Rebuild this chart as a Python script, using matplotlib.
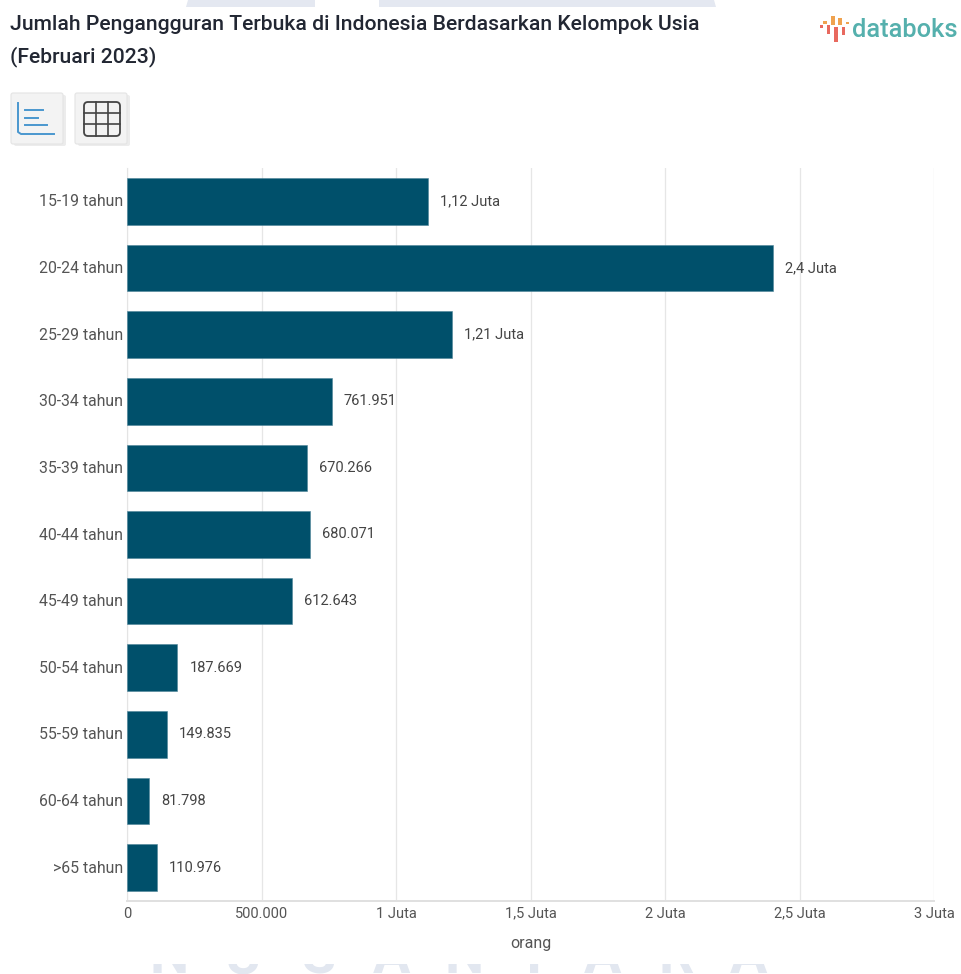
import matplotlib
matplotlib.use("Agg")
import matplotlib.pyplot as plt
from matplotlib.patches import FancyBboxPatch, Rectangle, Polygon
from matplotlib.transforms import ScaledTranslation

categories = ["15-19 tahun", "20-24 tahun", "25-29 tahun", "30-34 tahun", "35-39 tahun",
              "40-44 tahun", "45-49 tahun", "50-54 tahun", "55-59 tahun", "60-64 tahun", ">65 tahun"]
values = [1120000, 2400000, 1210000, 761951, 670266, 680071, 612643, 187669, 149835, 81798, 110976]
value_labels = ["1,12 Juta", "2,4 Juta", "1,21 Juta", "761.951", "670.266", "680.071",
                "612.643", "187.669", "149.835", "81.798", "110.976"]
tick_values = [0, 500000, 1000000, 1500000, 2000000, 2500000, 3000000]
tick_labels = ["0", "500.000", "1 Juta", "1,5 Juta", "2 Juta", "2,5 Juta", "3 Juta"]

W, H = 961, 974
plt.rcParams["font.family"] = ["Roboto", "DejaVu Sans"]
fig = plt.figure(figsize=(W / 100, H / 100), dpi=100, facecolor="white")

# pixel-coordinate overlay for page furniture
page = fig.add_axes([0, 0, 1, 1], zorder=0)
page.set_xlim(0, W)
page.set_ylim(H, 0)
page.axis("off")

# page lettering behind the white chart card: only its lower edge shows
band = Rectangle((0, 964), W, 10, transform=page.transData, fc="none", ec="none")
page.add_patch(band)
for ch, cx in zip("NUSANTARA", [169, 243, 318, 391, 464, 534, 602, 676, 748]):
    letter = page.text(cx, 973, ch, fontsize=40, color="#e2e7f0", ha="center", va="baseline",
                       fontweight="bold", clip_on=True)
    letter.set_clip_path(band)
page.add_patch(Polygon([[186, 7], [188, 0], [315, 0], [315, 7]], color="#e4e8f1", lw=0))
page.add_patch(Polygon([[379, 7], [379, 0], [714, 0], [716, 7]], color="#e4e8f1", lw=0))

page.text(10, 25, "Jumlah Pengangguran Terbuka di Indonesia Berdasarkan Kelompok Usia",
          fontsize=15.2, fontweight="medium", color="#222733", va="center")
page.text(10, 57, "(Februari 2023)", fontsize=15.2, fontweight="medium", color="#222733", va="center")

# logo
logo_bars = [(820, 25, 3, 3, "#e8695f"), (823, 21, 4, 3, "#efa24f"), (827, 25, 3, 9, "#e8695f"),
             (831, 16, 4, 9, "#efa24f"), (834, 27, 4, 15, "#e8695f"),
             (838, 18, 4, 7, "#efa24f"), (842, 27, 3, 8, "#e8695f"), (846, 22, 3, 2, "#efa24f")]
for x, y, w, h, c in logo_bars:
    page.add_patch(Rectangle((x, y), w, h, color=c, lw=0))
page.text(852, 30, "databoks", fontsize=18.4, color="#55b0ad", va="center", fontweight="medium")

# view switch buttons
for x0 in (11, 75):
    page.add_patch(FancyBboxPatch((x0 + 3, 95), 52, 51, boxstyle="round,pad=0,rounding_size=2",
                                  fc="#ececec", ec="none"))
    page.add_patch(FancyBboxPatch((x0, 93), 52, 51, boxstyle="round,pad=0,rounding_size=2",
                                  fc="#f3f3f3", ec="#e4e4e4", lw=0.8))
page.plot([18, 18, 21, 54], [103, 132, 134, 134], color="#4a97cf", lw=1.4)
for x1, y in [(43, 110), (38, 118), (47, 125)]:
    page.plot([25, x1], [y, y], color="#4a97cf", lw=1.4)
page.add_patch(FancyBboxPatch((84, 102), 36, 34, boxstyle="round,pad=0,rounding_size=4",
                              fc="none", ec="#444444", lw=1.3))
for x in (96, 108):
    page.plot([x, x], [102, 136], color="#444444", lw=1.2)
for y in (113, 124):
    page.plot([84, 120], [y, y], color="#444444", lw=1.2)

# plot area spans the gridlines, one category band per row
left, right, top, bottom = 127, 934, 168, 901
ax = fig.add_axes([left / W, 1 - bottom / H, (right - left) / W, (bottom - top) / H], zorder=1)
ax.patch.set_alpha(0)
positions = list(range(len(categories)))
ax.barh(positions, values, height=0.7, color="#00506b", edgecolor="#4d8499", linewidth=0.4, zorder=3)
ax.set_xlim(0, 3000000)
ax.set_ylim(len(categories) - 0.5, -0.5)
ax.set_yticks(positions, categories)
ax.set_xticks(tick_values, tick_labels)
ax.tick_params(axis="y", length=0, pad=3, labelsize=11.4, labelcolor="#555555")
ax.tick_params(axis="x", length=0, pad=4, labelsize=10.5, labelcolor="#555555")
lift = ScaledTranslation(0, 1 / 100, fig.dpi_scale_trans)
for label in ax.get_yticklabels():
    label.set_transform(label.get_transform() + lift)
ax.grid(axis="x", color="#e6e6e6", lw=0.9, zorder=0)
for side in ("top", "right"):
    ax.spines[side].set_visible(False)
ax.spines["left"].set_color("#e4e4e4")
ax.spines["bottom"].set_color("#e0e0e0")
ax.spines["bottom"].set_linewidth(1.4)
ax.set_xlabel("orang", fontsize=11.5, color="#555555", labelpad=11)

for pos, val, lab in zip(positions, values, value_labels):
    ax.annotate(lab, (val, pos), xytext=(12, 0), textcoords="offset pixels",
                va="center", ha="left", fontsize=10.5, color="#444444", zorder=4)

fig.savefig("out.png", dpi=100)
